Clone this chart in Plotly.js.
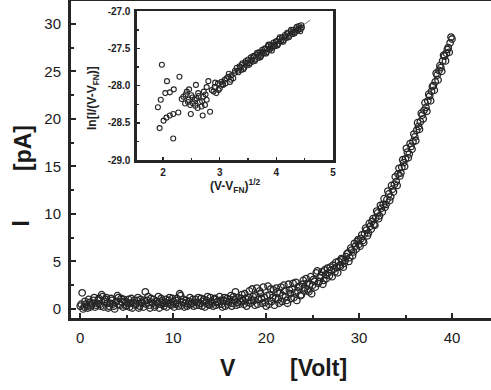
<!DOCTYPE html>
<html><head><meta charset="utf-8">
<script src="https://cdn.plot.ly/plotly-3.0.1.min.js"></script>
<style>html,body{margin:0;padding:0;background:#fff}</style>
</head><body><div id="plot" style="width:491px;height:390px"></div>
<script>
// Main I–V data (V in Volt, I in pA), first sweep
var mainV = [0.0,0.2,0.4,0.6,0.8,1.0,1.2,1.4,1.6,1.8,2.0,2.2,2.4,2.6,2.8,3.0,3.2,3.4,3.6,3.8,4.0,4.2,4.4,4.6,4.8,5.0,5.2,5.4,5.6,5.8,6.0,6.2,6.4,6.6,6.8,7.0,7.2,7.4,7.6,7.8,8.0,8.2,8.4,8.6,8.8,9.0,9.2,9.4,9.6,9.8,10.0,10.2,10.4,10.6,10.8,11.0,11.2,11.4,11.6,11.8,12.0,12.2,12.4,12.6,12.8,13.0,13.2,13.4,13.6,13.8,14.0,14.2,14.4,14.6,14.8,15.0,15.2,15.4,15.6,15.8,16.0,16.2,16.4,16.6,16.8,17.0,17.2,17.4,17.6,17.8,18.0,18.2,18.4,18.6,18.8,19.0,19.2,19.4,19.6,19.8,20.0,20.2,20.4,20.6,20.8,21.0,21.2,21.4,21.6,21.8,22.0,22.2,22.4,22.6,22.8,23.0,23.2,23.4,23.6,23.8,24.0,24.2,24.4,24.6,24.8,25.0,25.2,25.4,25.6,25.8,26.0,26.2,26.4,26.6,26.8,27.0,27.2,27.4,27.6,27.8,28.0,28.2,28.4,28.6,28.8,29.0,29.2,29.4,29.6,29.8,30.0,30.2,30.4,30.6,30.8,31.0,31.2,31.4,31.6,31.8,32.0,32.2,32.4,32.6,32.8,33.0,33.2,33.4,33.6,33.8,34.0,34.2,34.4,34.6,34.8,35.0,35.2,35.4,35.6,35.8,36.0,36.2,36.4,36.6,36.8,37.0,37.2,37.4,37.6,37.8,38.0,38.2,38.4,38.6,38.8,39.0,39.2,39.4,39.6,39.8,40.0];
var mainI = [0.3,1.7,0.2,0.5,0.1,0.7,0.4,0.9,0.2,0.6,1.1,0.3,1.3,0.8,1.2,0.1,0.6,0.9,0.3,0.7,1.4,0.5,1.1,0.2,0.8,0.4,1.0,0.6,0.1,0.9,0.5,1.2,0.3,0.7,0.2,1.8,0.9,0.4,1.1,0.6,0.2,0.8,1.3,0.5,0.9,0.3,1.0,0.6,1.2,0.4,0.8,0.5,1.1,0.3,1.4,0.7,0.2,0.9,0.5,1.2,0.6,0.3,1.0,0.7,0.4,1.1,0.8,0.2,0.9,0.5,1.2,0.6,1.0,0.4,0.8,1.3,0.5,0.9,0.3,1.1,0.7,1.4,0.6,1.0,0.4,1.2,0.8,1.5,0.5,1.1,0.7,1.9,0.9,1.3,0.4,2.2,1.0,1.6,0.6,1.2,0.3,2.4,1.5,0.8,2.0,1.1,1.8,0.6,2.3,1.4,1.9,0.9,2.6,1.6,2.1,1.2,2.8,1.9,2.4,1.5,3.0,2.2,2.7,1.8,3.4,2.5,2.9,3.8,2.7,3.3,3.9,3.0,3.6,4.3,3.5,4.1,4.6,3.9,4.4,5.0,4.5,5.2,4.8,5.5,5.9,5.4,6.2,6.0,6.6,7.1,6.8,7.4,7.2,7.9,8.3,8.0,8.7,9.2,8.9,9.6,10.1,9.8,10.6,11.0,10.7,11.5,12.1,11.8,12.6,13.1,13.4,14.2,14.0,14.9,15.4,15.8,16.5,16.3,17.1,17.6,18.1,18.8,19.2,19.7,20.4,20.9,21.2,21.9,22.4,22.9,23.5,23.9,24.6,25.1,25.4,26.1,26.6,26.9,27.5,28.0,28.4];
// second sweep
var mainV2 = [0.1,0.3,0.5,0.7,0.9,1.1,1.3,1.5,1.7,1.9,2.1,2.3,2.5,2.7,2.9,3.1,3.3,3.5,3.7,3.9,4.1,4.3,4.5,4.7,4.9,5.1,5.3,5.5,5.7,5.9,6.1,6.3,6.5,6.7,6.9,7.1,7.3,7.5,7.7,7.9,8.1,8.3,8.5,8.7,8.9,9.1,9.3,9.5,9.7,9.9,10.1,10.3,10.5,10.7,10.9,11.1,11.3,11.5,11.7,11.9,12.1,12.3,12.5,12.7,12.9,13.1,13.3,13.5,13.7,13.9,14.1,14.3,14.5,14.7,14.9,15.1,15.3,15.5,15.7,15.9,16.1,16.3,16.5,16.7,16.9,17.1,17.3,17.5,17.7,17.9,18.1,18.3,18.5,18.7,18.9,19.1,19.3,19.5,19.7,19.9,20.1,20.3,20.5,20.7,20.9,21.1,21.3,21.5,21.7,21.9,22.1,22.3,22.5,22.7,22.9,23.1,23.3,23.5,23.7,23.9,24.1,24.3,24.5,24.7,24.9,25.1,25.3,25.5,25.7,25.9,26.1,26.3,26.5,26.7,26.9,27.1,27.3,27.5,27.7,27.9,28.1,28.3,28.5,28.7,28.9,29.1,29.3,29.5,29.7,29.9,30.1,30.3,30.5,30.7,30.9,31.1,31.3,31.5,31.7,31.9,32.1,32.3,32.5,32.7,32.9,33.1,33.3,33.5,33.7,33.9,34.1,34.3,34.5,34.7,34.9,35.1,35.3,35.5,35.7,35.9,36.1,36.3,36.5,36.7,36.9,37.1,37.3,37.5,37.7,37.9,38.1,38.3,38.5,38.7,38.9,39.1,39.3,39.5,39.7,39.9];
var mainI2 = [0.5,0.0,0.8,0.3,1.0,0.2,0.6,1.2,0.4,0.9,0.5,1.5,0.2,1.0,0.6,0.3,1.1,0.5,0.0,0.8,1.2,0.4,0.7,1.0,0.3,0.6,0.2,1.1,0.7,0.4,0.9,0.1,1.0,0.6,0.9,0.5,1.3,0.1,0.7,1.0,0.4,0.6,0.1,1.1,0.7,0.6,0.2,0.9,0.5,1.1,0.2,0.9,0.6,1.6,0.4,1.0,0.6,0.3,0.8,0.5,1.0,0.7,0.4,1.2,0.6,0.3,1.0,0.6,1.3,0.4,0.8,0.3,1.1,0.7,0.5,0.9,0.2,1.2,0.8,0.5,1.0,0.3,1.3,1.8,0.7,0.5,1.1,0.9,1.6,0.3,1.2,0.6,2.1,0.9,1.4,0.5,1.9,1.1,2.3,0.7,1.4,0.5,2.1,1.2,0.4,2.2,1.0,1.7,0.8,2.5,1.3,0.6,2.0,1.1,2.7,1.7,0.9,2.3,1.4,2.6,1.9,3.2,2.0,2.6,1.6,3.1,2.3,4.0,2.9,3.5,2.6,4.1,3.2,3.8,4.4,3.4,4.2,4.9,3.8,4.6,5.3,4.4,5.1,5.8,5.0,6.4,5.6,6.9,6.3,7.3,6.6,7.8,7.0,8.5,7.7,9.0,8.4,9.5,8.8,10.3,9.5,10.9,10.2,11.6,11.0,12.4,11.4,13.0,12.3,13.9,13.0,14.8,14.3,15.7,15.0,16.9,15.9,17.4,16.8,18.4,17.7,19.6,18.9,20.6,20.0,21.7,20.8,22.6,21.9,23.4,23.0,24.8,24.1,25.6,25.0,26.7,26.1,27.3,27.0,28.6];
// Inset data: x = (V - V_FN)^(1/2), y = ln[I/(V - V_FN)]
var insetX = [1.98,2.07,2.29,2.04,2.12,2.19,1.96,1.91,1.94,2.01,2.06,2.12,2.18,2.27,2.18,2.36,2.42,2.45,2.50,2.53,2.59,2.62,2.65,2.71,2.74,2.77,2.39,2.48,2.56,2.68,2.49,2.70,2.83,2.58,2.80,2.77,2.86,2.91,2.97,3.03,3.09,3.15,3.21,3.26,2.89,3.00,2.94,3.06,3.18,3.24,3.30,3.33,3.35,3.38,3.40,3.43,3.45,3.48,3.50,3.53,3.55,3.58,3.60,3.63,3.65,3.68,3.70,3.73,3.75,3.78,3.80,3.83,3.85,3.88,3.90,3.93,3.95,3.98,4.00,4.03,4.05,4.08,4.10,4.13,4.15,4.18,4.20,4.23,4.25,4.28,4.30,4.33,4.35,4.38,4.40,4.43,4.45,3.32,3.36,3.39,3.42,3.46,3.49,3.52,3.56,3.59,3.62,3.66,3.69,3.72,3.76,3.79,3.82,3.86,3.89,3.92,3.96,3.99,4.02,4.06,4.09,4.12,4.16,4.19,4.22,4.26,4.29,4.32,4.36,4.39,4.42,4.44,3.05,3.12,3.20,3.27,2.92,2.98,3.10,3.16,2.40,2.44,2.52,2.57,2.63,2.69,2.75,2.33,2.46,2.61,2.72];
var insetY = [-27.72,-27.94,-27.88,-28.10,-28.09,-28.05,-28.19,-28.29,-28.57,-28.47,-28.43,-28.40,-28.38,-28.36,-28.71,-28.15,-28.08,-28.19,-28.13,-28.24,-28.17,-28.10,-28.22,-28.15,-28.26,-28.19,-28.24,-28.26,-28.19,-28.28,-28.38,-28.40,-28.35,-27.99,-27.94,-28.02,-28.06,-28.02,-27.97,-27.95,-27.92,-27.88,-27.86,-27.83,-28.08,-28.04,-28.10,-27.99,-27.95,-27.90,-27.76,-27.82,-27.74,-27.79,-27.70,-27.76,-27.69,-27.73,-27.65,-27.70,-27.62,-27.68,-27.60,-27.65,-27.58,-27.63,-27.55,-27.60,-27.52,-27.57,-27.50,-27.55,-27.47,-27.52,-27.45,-27.49,-27.42,-27.47,-27.40,-27.44,-27.37,-27.41,-27.35,-27.39,-27.32,-27.36,-27.30,-27.33,-27.27,-27.31,-27.25,-27.28,-27.23,-27.26,-27.20,-27.24,-27.22,-27.80,-27.75,-27.72,-27.78,-27.67,-27.70,-27.72,-27.66,-27.61,-27.67,-27.56,-27.60,-27.62,-27.55,-27.51,-27.57,-27.45,-27.50,-27.53,-27.45,-27.41,-27.46,-27.35,-27.39,-27.41,-27.34,-27.29,-27.35,-27.25,-27.28,-27.30,-27.21,-27.24,-27.27,-27.19,-27.98,-27.90,-27.92,-27.80,-27.96,-28.06,-27.97,-27.84,-28.12,-28.22,-28.16,-28.27,-28.14,-28.21,-28.12,-28.18,-28.05,-28.30,-28.08];
// Linear fit shown in the inset
var fitX = [2.85, 4.60];
var fitY = [-28.03, -27.12];

var dark = '#262626';
var mainMarker = {symbol: 'circle-open', size: 6.5, color: dark, line: {width: 1.3, color: dark}};
var traces = [
  {x: mainV, y: mainI, type: 'scatter', mode: 'markers', xaxis: 'x', yaxis: 'y', marker: mainMarker, hoverinfo: 'skip'},
  {x: mainV2, y: mainI2, type: 'scatter', mode: 'markers', xaxis: 'x', yaxis: 'y', marker: mainMarker, hoverinfo: 'skip'},
  {x: fitX, y: fitY, type: 'scatter', mode: 'lines', xaxis: 'x2', yaxis: 'y2',
   line: {color: '#777', width: 1}, hoverinfo: 'skip'},
  {x: insetX, y: insetY, type: 'scatter', mode: 'markers', xaxis: 'x2', yaxis: 'y2',
   marker: {symbol: 'circle-open', size: 5, color: dark, line: {width: 1.1, color: dark}}, hoverinfo: 'skip'}
];
var fam = 'Liberation Sans, Arial, sans-serif';
var tickF = {family: fam, size: 15, color: '#1a1a1a'};
var smallF = {family: fam, size: 10, color: '#222', weight: 'bold'};
var layout = {
  width: 491, height: 390,
  margin: {l: 71, r: 0, t: 1, b: 72},
  paper_bgcolor: '#fff', plot_bgcolor: '#fff',
  showlegend: false,
  xaxis: {range: [-1, 44.2], tickvals: [0,10,20,30,40], ticks: 'inside', ticklen: 5, tickwidth: 2, tickcolor: dark,
          minor: {tickvals: [5,15,25,35], ticks: 'inside', ticklen: 3, tickwidth: 2, tickcolor: dark},
          showline: true, linewidth: 3, linecolor: dark, mirror: true, showgrid: false, zeroline: false,
          tickfont: tickF, ticklabelstandoff: 4},
  yaxis: {range: [-0.95, 32.4], tickvals: [0,5,10,15,20,25,30], ticks: 'inside', ticklen: 5, tickwidth: 2, tickcolor: dark,
          minor: {tickvals: [2.5,7.5,12.5,17.5,22.5,27.5], ticks: 'inside', ticklen: 3, tickwidth: 2, tickcolor: dark},
          showline: true, linewidth: 3, linecolor: dark, showgrid: false, zeroline: false,
          tickfont: tickF, ticklabelstandoff: 4},
  xaxis2: {domain: [0.157, 0.624], anchor: 'y2', range: [1.54, 5.0], tickvals: [2,3,4,5], ticktext: ['2','3','4','5'],
           ticks: 'inside', ticklen: 3, tickwidth: 1.5, tickcolor: dark,
           minor: {tickvals: [1.5,2.5,3.5,4.5], ticks: 'inside', ticklen: 2, tickwidth: 1.5, tickcolor: dark},
           showline: true, linewidth: 2.5, linecolor: dark, mirror: true, showgrid: false, zeroline: false,
           tickfont: smallF, ticklabelstandoff: 1},
  yaxis2: {domain: [0.498, 0.968], anchor: 'x2', range: [-29, -27], tickvals: [-29,-28.5,-28,-27.5,-27],
           ticktext: ['-29.0','-28.5','-28.0','-27.5','-27.0'],
           ticks: 'inside', ticklen: 3, tickwidth: 1.5, tickcolor: dark,
           minor: {tickvals: [-28.75,-28.25,-27.75,-27.25], ticks: 'inside', ticklen: 2, tickwidth: 1.5, tickcolor: dark},
           showline: true, linewidth: 2.5, linecolor: dark, mirror: true, showgrid: false, zeroline: false,
           tickfont: smallF, ticklabelstandoff: 2},
  annotations: [
    {text: 'V', xref: 'paper', yref: 'paper', x: (228-71)/420, y: -(368-318)/317, xanchor: 'center', yanchor: 'middle', showarrow: false,
     font: {family: fam, size: 23, weight: 'bold', color: '#1a1a1a'}},
    {text: '[Volt]', xref: 'paper', yref: 'paper', x: (318-71)/420, y: -(368-318)/317, xanchor: 'center', yanchor: 'middle', showarrow: false,
     font: {family: fam, size: 23, weight: 'bold', color: '#1a1a1a'}},
    {text: 'I', xref: 'paper', yref: 'paper', x: -(71-20.5)/420, y: (318-224)/317, xanchor: 'center', yanchor: 'middle', showarrow: false, textangle: -90,
     font: {family: fam, size: 23, weight: 'bold', color: '#1a1a1a'}},
    {text: '[pA]', xref: 'paper', yref: 'paper', x: -(71-23)/420, y: (318-148)/317, xanchor: 'center', yanchor: 'middle', showarrow: false, textangle: -90,
     font: {family: fam, size: 23, weight: 'bold', color: '#1a1a1a'}},
    {text: 'ln[I/(V-V<sub>FN</sub>)]', xref: 'paper', yref: 'paper', x: -(71-93)/420, y: (318-98)/317, xanchor: 'center', yanchor: 'middle', showarrow: false, textangle: -90,
     font: {family: fam, size: 12, weight: 'bold', color: '#222'}},
    {text: '(V-V<sub>FN</sub>)<sup>1/2</sup>', xref: 'paper', yref: 'paper', x: (235-71)/420, y: (318-186)/317, xanchor: 'center', yanchor: 'middle', showarrow: false,
     font: {family: fam, size: 12, weight: 'bold', color: '#222'}}
  ]
};
Plotly.newPlot('plot', traces, layout, {staticPlot: true, displayModeBar: false});
</script>
</body></html>
